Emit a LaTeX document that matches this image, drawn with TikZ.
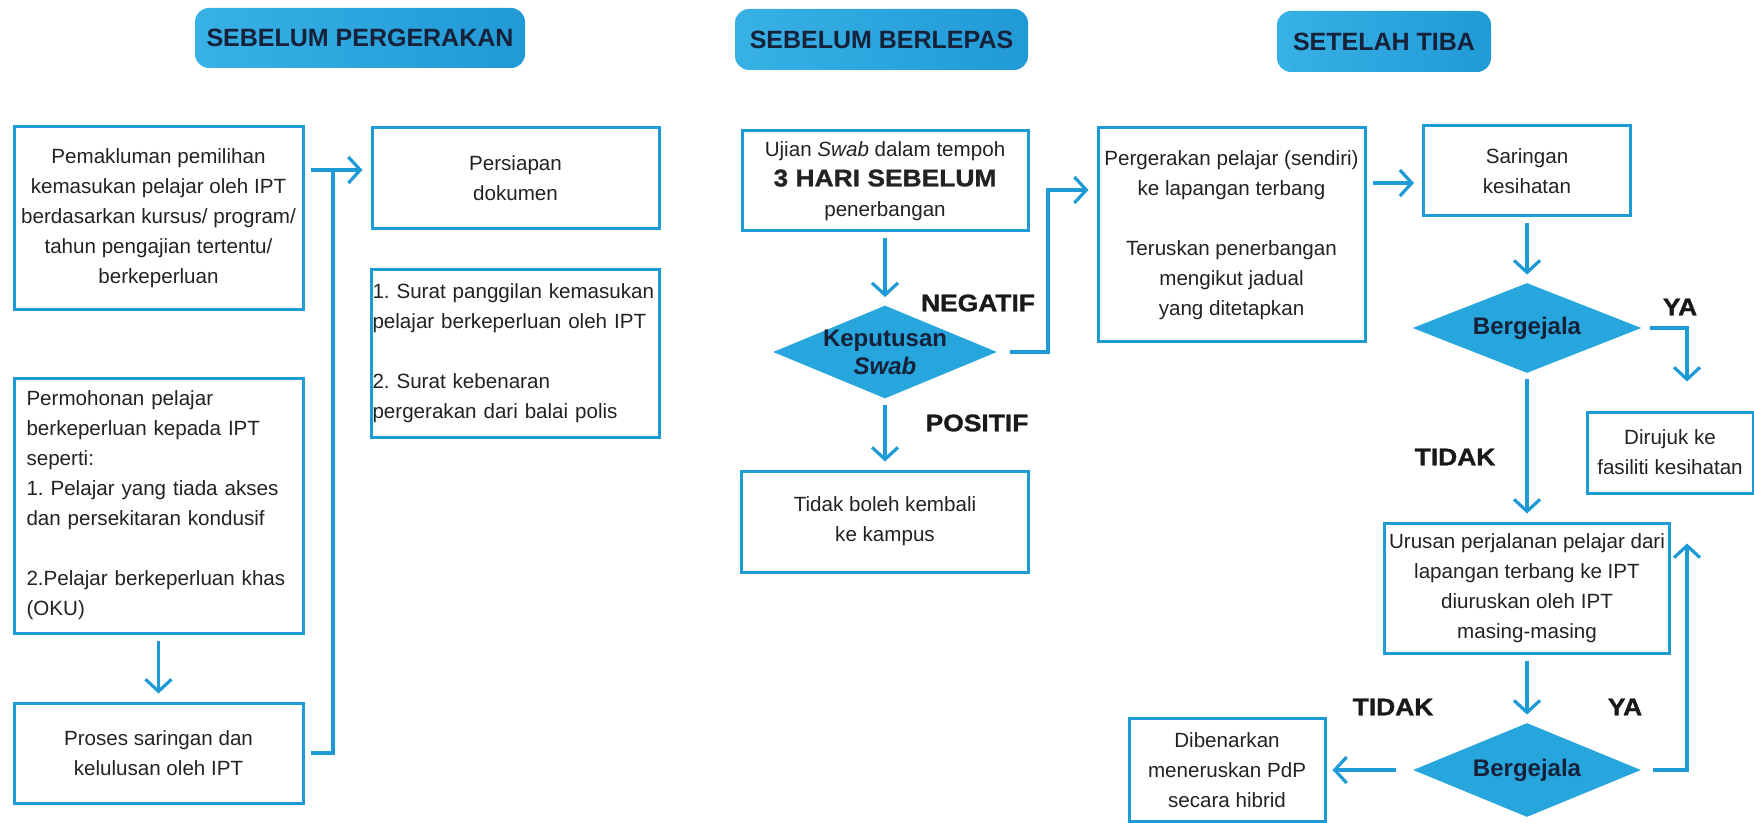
\documentclass[tikz,border=0pt]{standalone}
\usepackage{fontspec}
\setmainfont{Liberation Sans}
\newfontfamily\tebal[FakeBold=1.2,FakeStretch=1.1]{Liberation Sans Bold}
\frenchspacing
\usetikzlibrary{arrows.meta,shapes.geometric}
\definecolor{biru}{HTML}{1E9AD6}
\definecolor{birukiri}{HTML}{38B1E6}
\definecolor{birukanan}{HTML}{2199D6}
\definecolor{biruisi}{HTML}{27A6DE}
\definecolor{gelap}{HTML}{16213A}
\definecolor{teks}{HTML}{222222}
\tikzset{
  >={Straight Barb[length=6pt,width=13pt]},
  garis/.style  ={draw=biru, line width=1.6pt, shorten <=3pt},
  panah/.style  ={->, draw=biru, line width=1.6pt, shorten <=3pt, shorten >=4pt},
  kotak/.style  ={draw=biru, line width=1.5pt, align=center, text=teks, inner sep=0pt,
                  font=\fontsize{10.3}{15}\selectfont},
  senarai/.style={kotak, align=left},
  wajik/.style  ={diamond, fill=biruisi, aspect=2.45, inner sep=0pt, align=center, text=gelap,
                  font=\fontsize{12}{14}\selectfont\bfseries},
  tajuk/.style  ={rounded corners=7pt, left color=birukiri, right color=birukanan, text=gelap,
                  font=\fontsize{12.5}{15}\selectfont\bfseries},
  jawab/.style  ={text=black!90, font=\tebal\fontsize{12}{14}\selectfont}
}

\begin{document}
\begin{tikzpicture}[x=0.5pt,y=-0.5pt]
\clip (0,0) rectangle (1754,823);
\node[tajuk, minimum width=165pt, minimum height=30pt] (h1) at (360,38) {SEBELUM PERGERAKAN};
\node[tajuk, minimum width=146.5pt, minimum height=30.5pt] (h2) at (881.5,39.5) {SEBELUM BERLEPAS};
\node[tajuk, minimum width=107pt, minimum height=30.5pt] (h3) at (1384,41.5) {SETELAH TIBA};

\node[kotak, minimum width=144.5pt, minimum height=91.5pt] (pemakluman) at (158.5,218.5)
  {Pemakluman pemilihan\\kemasukan pelajar oleh IPT\\berdasarkan kursus/ program/\\tahun pengajian tertentu/\\berkeperluan};
\node[senarai, text width=132pt, inner xsep=6.25pt, minimum height=127.5pt] (permohonan) at (158.5,505.5)
  {Permohonan pelajar\\berkeperluan kepada IPT\\seperti:\\1. Pelajar yang tiada akses\\dan persekitaran kondusif\\[15pt]2.Pelajar berkeperluan khas\\(OKU)};
\node[kotak, minimum width=144.5pt, minimum height=50pt] (proses) at (158.5,753)
  {Proses saringan dan\\kelulusan oleh IPT};
\node[kotak, minimum width=143.5pt, minimum height=50.5pt] (persiapan) at (515.5,178.5)
  {Persiapan\\dokumen};
\node[senarai, text width=143pt, inner xsep=0.5pt, minimum height=83.5pt] (surat) at (515.5,353.5)
  {1. Surat panggilan kemasukan\\pelajar berkeperluan oleh IPT\\[15pt]2. Surat kebenaran\\pergerakan dari balai polis};

\node[kotak, minimum width=143pt, minimum height=50pt] (ujian) at (885,181)
  {Ujian \textit{Swab} dalam tempoh\\{\tebal\fontsize{12}{15}\selectfont 3 HARI SEBELUM}\\penerbangan};
\node[wajik, inner sep=-3pt, minimum width=112pt, minimum height=46.5pt] (keputusan) at (885,352)
  {Keputusan\\\textit{Swab}};
\node[kotak, minimum width=143.5pt, minimum height=50.5pt] (tidakboleh) at (885,521.5)
  {Tidak boleh kembali\\ke kampus};
\node[kotak, minimum width=133.5pt, minimum height=107pt] (pergerakan) at (1231.5,235)
  {Pergerakan pelajar (sendiri)\\ke lapangan terbang\\[15pt]Teruskan penerbangan\\mengikut jadual\\yang ditetapkan};

\node[kotak, minimum width=103.5pt, minimum height=45pt] (saringan) at (1527,171)
  {Saringan\\kesihatan};
\node[wajik, minimum width=114.5pt, minimum height=45pt] (bergejala1) at (1527,328) {Bergejala};
\node[kotak, minimum width=83pt, minimum height=40.5pt] (dirujuk) at (1670,452.5)
  {Dirujuk ke\\fasiliti kesihatan};
\node[kotak, minimum width=142.5pt, minimum height=65pt] (urusan) at (1527,588)
  {Urusan perjalanan pelajar dari\\lapangan terbang ke IPT\\diuruskan oleh IPT\\masing-masing};
\node[wajik, minimum width=114pt, minimum height=47pt] (bergejala2) at (1527,770) {Bergejala};
\node[kotak, minimum width=98pt, minimum height=51.5pt] (dibenarkan) at (1227,770)
  {Dibenarkan\\meneruskan PdP\\secara hibrid};

\node[jawab] (negatif) at (978,303) {NEGATIF};
\node[jawab] (positif) at (977,423) {POSITIF};
\node[jawab] (ya1) at (1680,307) {YA};
\node[jawab] (tidak1) at (1455,457) {TIDAK};
\node[jawab] (tidak2) at (1393,707) {TIDAK};
\node[jawab] (ya2) at (1625,707) {YA};

\coordinate (simpang) at (333,170);
\coordinate (belok) at (1048,190);
\coordinate (masuk) at ([yshift=-6pt]saringan.west);
\draw[panah] (pemakluman.east |- simpang) -- (persiapan.west |- simpang);
\draw[garis] (proses.east) -| (simpang);
\draw[panah] (permohonan) -- (proses);
\draw[panah] (ujian) -- (keputusan);
\draw[panah, shorten <=6.5pt] (keputusan.east) -| (belok) -- (belok -| pergerakan.west);
\draw[panah] (keputusan) -- (tidakboleh);
\draw[panah] (pergerakan.east |- masuk) -- (masuk);
\draw[panah] (saringan) -- (bergejala1);
\draw[panah, shorten <=4pt, shorten >=14.5pt] (bergejala1.east) -| ([xshift=8.5pt]dirujuk.north);
\draw[panah] (bergejala1) -- (urusan);
\draw[panah] (urusan) -- (bergejala2);
\draw[panah, shorten <=8.5pt, shorten >=3pt] (bergejala2.west) -- (dibenarkan.east);
\draw[panah, shorten <=6pt, shorten >=24.5pt] (bergejala2.east) -| ([xshift=8.5pt]dirujuk.south);
\end{tikzpicture}
\end{document}
